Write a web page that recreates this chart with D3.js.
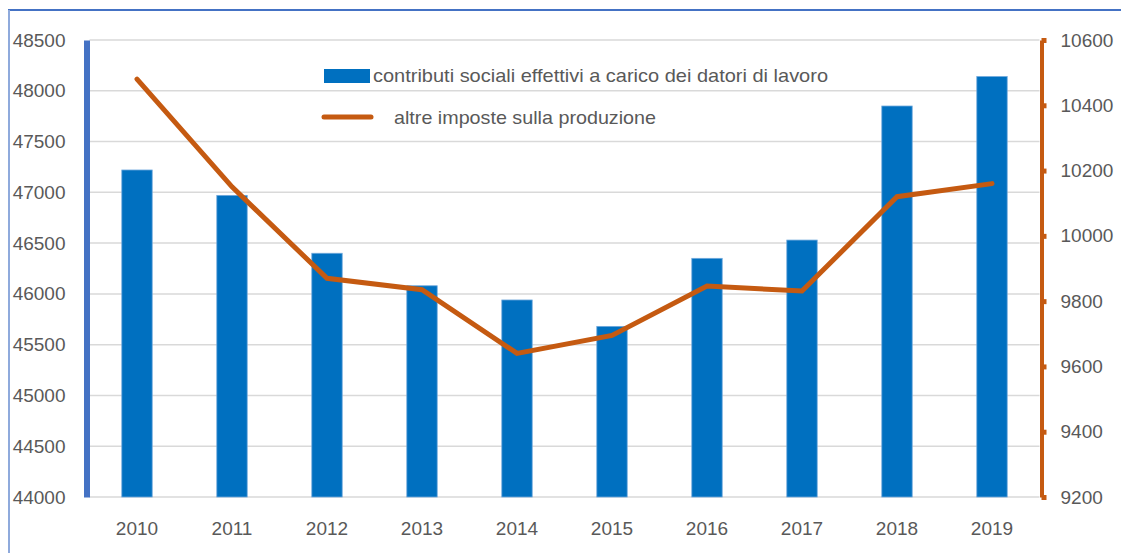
<!DOCTYPE html>
<html lang="it">
<head>
    <meta charset="UTF-8">
    <title>Contributi sociali e altre imposte</title>
    <script src="https://cdn.jsdelivr.net/npm/d3@7"></script>
    <style>
        body { margin: 0; background: #fff; }
        text { font-family: "Liberation Sans", Arial, sans-serif; fill: #595959; }
    </style>
</head>
<body>
<div id="chart"></div>
<script>
    // dati
    const years = ["2010", "2011", "2012", "2013", "2014", "2015", "2016", "2017", "2018", "2019"];
    const contributi = [47220, 46970, 46400, 46080, 45940, 45680, 46350, 46530, 47850, 48140];
    const altreImposte = [10480, 10150, 9870, 9835, 9640, 9695, 9846, 9831, 10120, 10160];
    const leftTicks = [44000, 44500, 45000, 45500, 46000, 46500, 47000, 47500, 48000, 48500];
    const rightTicks = [9200, 9400, 9600, 9800, 10000, 10200, 10400, 10600];
    const legendLabels = ["contributi sociali effettivi a carico dei datori di lavoro", "altre imposte sulla produzione"];

    const width = 1121, height = 553;
    const plotLeft = 89.5, plotRight = 1039.5, plotTop = 40, plotBottom = 497;
    const blue = "#0070C0", orange = "#C55A11";
    const fontSize = 19;

    const svg = d3.select("#chart").append("svg")
        .attr("width", width)
        .attr("height", height);

    // cornice
    svg.append("line").attr("x1", 8).attr("x2", width).attr("y1", 10).attr("y2", 10)
        .attr("stroke", "#4472C4").attr("stroke-width", 2);
    svg.append("line").attr("x1", 9).attr("x2", 9).attr("y1", 10).attr("y2", height)
        .attr("stroke", "#8FAADC").attr("stroke-width", 2);

    const x = d3.scaleBand().domain(years).range([plotLeft, plotRight])
        .paddingInner(0.68).paddingOuter(0.34);
    const yL = d3.scaleLinear().domain([44000, 48500]).range([plotBottom, plotTop]);
    const yR = d3.scaleLinear().domain([9200, 10600]).range([plotBottom, plotTop]);

    // griglia
    svg.append("g").selectAll("line")
        .data(leftTicks)
        .enter().append("line")
        .attr("x1", plotLeft).attr("x2", plotRight)
        .attr("y1", d => yL(d)).attr("y2", d => yL(d))
        .attr("stroke", "#D9D9D9").attr("stroke-width", 1.5);

    // barre
    svg.append("g").selectAll("rect")
        .data(contributi)
        .enter().append("rect")
        .attr("x", (d, i) => x(years[i]))
        .attr("width", x.bandwidth())
        .attr("y", d => yL(d))
        .attr("height", d => plotBottom - yL(d))
        .attr("fill", blue)
        .attr("stroke", "#6FA8DC").attr("stroke-width", 0.8);

    function styleText(g) {
        g.selectAll("text").attr("font-size", fontSize).attr("fill", "#595959")
            .style("font-family", '"Liberation Sans", Arial, sans-serif');
    }

    // asse sinistro
    const axisL = svg.append("g")
        .attr("transform", `translate(${plotLeft - 3},0)`)
        .call(d3.axisLeft(yL).tickValues(leftTicks).tickFormat(d3.format("d"))
            .tickSize(0).tickPadding(21));
    axisL.select(".domain").attr("stroke", "#4472C4").attr("stroke-width", 6);
    styleText(axisL);

    // asse destro
    const axisR = svg.append("g")
        .attr("transform", `translate(${plotRight + 2},0)`)
        .call(d3.axisRight(yR).tickValues(rightTicks).tickFormat(d3.format("d"))
            .tickSize(5).tickPadding(14).tickSizeOuter(0));
    axisR.select(".domain").attr("stroke", orange).attr("stroke-width", 4);
    axisR.selectAll(".tick line").attr("stroke", orange).attr("stroke-width", 5);
    styleText(axisR);

    // asse x
    const axisX = svg.append("g")
        .attr("transform", `translate(0,${plotBottom})`)
        .call(d3.axisBottom(x).tickSize(0).tickPadding(25));
    axisX.select(".domain").remove();
    styleText(axisX);

    // linea
    const line = d3.line()
        .x((d, i) => x(years[i]) + x.bandwidth() / 2)
        .y(d => yR(d));
    svg.append("path")
        .datum(altreImposte)
        .attr("d", line)
        .attr("fill", "none")
        .attr("stroke", orange)
        .attr("stroke-width", 5)
        .attr("stroke-linecap", "round");

    // legenda
    const legend = svg.append("g");
    legend.append("rect")
        .attr("x", 324).attr("y", 69).attr("width", 46).attr("height", 14)
        .attr("fill", blue);
    legend.append("text")
        .attr("x", 373).attr("y", 82)
        .attr("font-size", fontSize)
        .attr("textLength", 455).attr("lengthAdjust", "spacingAndGlyphs")
        .text(legendLabels[0]);
    legend.append("line")
        .attr("x1", 324).attr("x2", 371).attr("y1", 117).attr("y2", 117)
        .attr("stroke", orange).attr("stroke-width", 5).attr("stroke-linecap", "round");
    legend.append("text")
        .attr("x", 394).attr("y", 124)
        .attr("font-size", fontSize)
        .attr("textLength", 262).attr("lengthAdjust", "spacingAndGlyphs")
        .text(legendLabels[1]);
</script>
</body>
</html>
